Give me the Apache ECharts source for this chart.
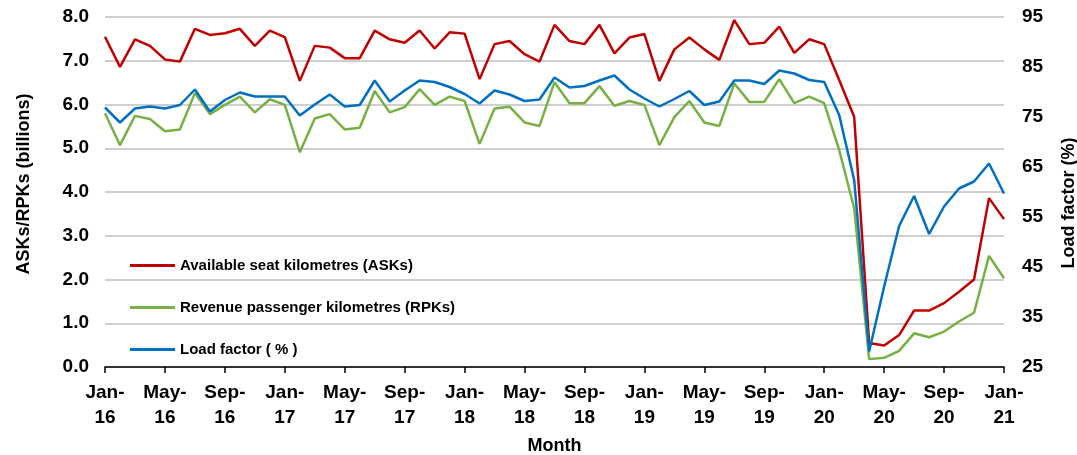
<!DOCTYPE html>
<html>
<head>
<meta charset="utf-8">
<script src="https://cdn.jsdelivr.net/npm/echarts@6/dist/echarts.min.js"></script>
<style>
html, body { margin: 0; padding: 0; background: #fff; }
#chart { width: 1077px; height: 455px; }
</style>
</head>
<body>
<div id="chart"></div>
<script>
// months Jan-16 .. Jan-21
var monthNames = ['Jan', 'Feb', 'Mar', 'Apr', 'May', 'Jun', 'Jul', 'Aug', 'Sep', 'Oct', 'Nov', 'Dec'];
var months = [];
for (var y = 16; y <= 21; y++) {
    for (var m = 0; m < 12; m++) {
        if (y == 21 && m > 0) break;
        months.push(monthNames[m] + '-\n' + y);
    }
}

// ASKs, billions
var asks = [7.55, 6.86, 7.49, 7.34, 7.03, 6.98, 7.73, 7.59, 7.63, 7.73, 7.34, 7.69,
    7.54, 6.54, 7.34, 7.30, 7.06, 7.06, 7.69, 7.49, 7.41, 7.69, 7.28, 7.65,
    7.62, 6.58, 7.38, 7.45, 7.15, 6.98, 7.82, 7.45, 7.38, 7.82, 7.17, 7.53,
    7.61, 6.54, 7.26, 7.53, 7.26, 7.02, 7.93, 7.38, 7.41, 7.78, 7.18, 7.49,
    7.38, 6.56, 5.72, 0.55, 0.49, 0.73, 1.29, 1.29, 1.46, 1.72, 2.00, 3.86,
    3.38];

// RPKs, billions
var rpks = [5.80, 5.07, 5.74, 5.67, 5.39, 5.43, 6.26, 5.78, 5.99, 6.18, 5.82, 6.12,
    5.99, 4.91, 5.68, 5.78, 5.43, 5.47, 6.31, 5.82, 5.94, 6.35, 5.99, 6.18,
    6.08, 5.10, 5.91, 5.95, 5.59, 5.51, 6.51, 6.03, 6.03, 6.42, 5.97, 6.08,
    5.99, 5.07, 5.71, 6.08, 5.59, 5.51, 6.48, 6.06, 6.06, 6.58, 6.03, 6.18,
    6.03, 4.96, 3.63, 0.18, 0.21, 0.37, 0.77, 0.68, 0.81, 1.04, 1.24, 2.54,
    2.03];

// load factor, %
var loadFactor = [76.9, 73.9, 76.7, 77.1, 76.7, 77.4, 80.5, 76.1, 78.4, 79.9, 79.1, 79.1,
    79.1, 75.3, 77.5, 79.5, 77.1, 77.4, 82.3, 78.1, 80.3, 82.3, 82.0, 81.0,
    79.6, 77.7, 80.3, 79.5, 78.2, 78.5, 82.9, 80.9, 81.2, 82.3, 83.3, 80.5,
    78.7, 77.1, 78.6, 80.2, 77.4, 78.1, 82.3, 82.3, 81.6, 84.3, 83.7, 82.4,
    82.0, 75.4, 62.4, 28.1, 41.1, 53.2, 59.2, 51.6, 57.1, 60.7, 62.1, 65.7,
    59.7];

var fontFam = '"Liberation Sans", Arial, sans-serif';
var labelStyle = { color: '#000', fontSize: 19, fontWeight: 'bold', fontFamily: fontFam };
var nameStyle = { color: '#000', fontSize: 18, fontWeight: 'bold', fontFamily: fontFam };

var chart = echarts.init(document.getElementById('chart'));
var option = {
    animation: false,
    backgroundColor: '#fff',
    grid: { left: 105, right: 73, top: 17, bottom: 88, outerBoundsMode: 'none' },
    legend: {
        orient: 'vertical',
        left: 125,
        top: 253,
        itemWidth: 45,
        itemHeight: 3,
        itemGap: 27,
        icon: 'rect',
        textStyle: { color: '#000', fontSize: 15, fontWeight: 'bold', fontFamily: fontFam },
        data: ['Available seat kilometres (ASKs)', 'Revenue passenger kilometres (RPKs)', 'Load factor ( % )']
    },
    xAxis: {
        type: 'category',
        boundaryGap: false,
        data: months,
        name: 'Month',
        nameLocation: 'middle',
        nameGap: 70,
        nameMoveOverlap: false,
        nameTextStyle: nameStyle,
        axisLine: { lineStyle: { color: '#000', width: 1.5 } },
        axisTick: { interval: 3, length: 6, lineStyle: { color: '#000', width: 1.5 } },
        axisLabel: Object.assign({ interval: 3, margin: 13, lineHeight: 25 }, labelStyle),
        splitLine: { show: false }
    },
    yAxis: [
        {
            type: 'value',
            min: 0, max: 8, interval: 1,
            name: 'ASKs/RPKs (billions)',
            nameLocation: 'middle',
            nameRotate: 90,
            nameGap: 72,
            nameMoveOverlap: false,
            nameTextStyle: Object.assign({ padding: [0, 0, 0, 16] }, nameStyle),
            axisLine: { show: false },
            axisTick: { show: false },
            axisLabel: Object.assign({ margin: 16, formatter: function (v) { return v.toFixed(1); } }, labelStyle),
            splitLine: { lineStyle: { color: '#BFBFBF', width: 1.5 } }
        },
        {
            type: 'value',
            min: 25, max: 95, interval: 10,
            name: 'Load factor (%)',
            nameLocation: 'middle',
            nameRotate: 90,
            nameGap: 56,
            nameMoveOverlap: false,
            nameTextStyle: Object.assign({ padding: [0, 22, 0, 0] }, nameStyle),
            axisLine: { show: false },
            axisTick: { show: false },
            axisLabel: Object.assign({ margin: 18 }, labelStyle),
            splitLine: { show: false }
        }
    ],
    series: [
        {
            name: 'Available seat kilometres (ASKs)',
            type: 'line',
            yAxisIndex: 0,
            data: asks,
            symbol: 'none',
            color: '#C00000',
            lineStyle: { width: 2.5, color: '#C00000' }
        },
        {
            name: 'Revenue passenger kilometres (RPKs)',
            type: 'line',
            yAxisIndex: 0,
            data: rpks,
            symbol: 'none',
            color: '#77B144',
            lineStyle: { width: 2.5, color: '#77B144' }
        },
        {
            name: 'Load factor ( % )',
            type: 'line',
            yAxisIndex: 1,
            data: loadFactor,
            symbol: 'none',
            color: '#0070C0',
            lineStyle: { width: 2.5, color: '#0070C0' }
        }
    ]
};
chart.setOption(option);
</script>
</body>
</html>
